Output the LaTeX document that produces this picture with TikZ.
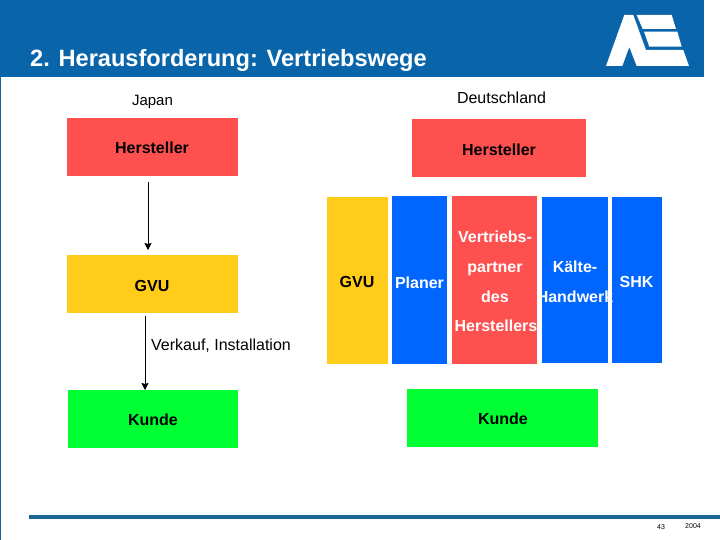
\documentclass[tikz,border=0pt]{standalone}
\usepackage{fontspec}
\setmainfont{Liberation Sans}
\definecolor{headblue}{HTML}{0A64AA}
\definecolor{rulecol}{HTML}{1B6496}
\definecolor{redbox}{HTML}{FF5050}
\definecolor{yelbox}{HTML}{FFCC1A}
\definecolor{blubox}{HTML}{0066FF}
\definecolor{grnbox}{HTML}{00FF33}
\usetikzlibrary{arrows.meta}
\tikzset{
  px/.style={x=1pt,y=-1pt},
  lab/.style={font=\fontsize{16}{18}\selectfont,inner sep=0pt,anchor=center},
  blab/.style={lab,font=\fontsize{16}{18}\selectfont\bfseries},
  arrowline/.style={draw=black,line width=0.7pt,-{Stealth[length=7pt,width=7pt,inset=1pt]}}
}
\newcommand{\boxat}[6]{% name, x1,y1,x2,y2, colour
  \fill[#6] (#2,#3) rectangle (#4,#5);
  \coordinate (#1) at ({(#2+#4)/2},{(#3+#5)/2});
}
\begin{document}
\begin{tikzpicture}[px]
\useasboundingbox (0,0) rectangle (720,540);
\fill[white] (0,0) rectangle (720,540);
% header
\fill[headblue] (0,0) rectangle (704,77);
\fill[rulecol] (0,77) rectangle (1,540);
\fill[rulecol] (29,515) rectangle (720,519);
\node[inner sep=0pt,anchor=base west,text=white,font=\fontsize{23.6}{26}\selectfont\bfseries] (title) at (30,67) {2. Herausforderung: Vertriebswege};
% logo
\fill[white] (606,66) -- (624.3,15) -- (633.3,15) -- (646,50) -- (683.3,50) -- (689,66) -- (636.7,66) -- (629.3,47) -- (622.3,66) -- cycle;
\fill[white] (636.7,15) -- (671.7,15) -- (676,29) -- (642.7,29) -- cycle;
\fill[white] (644,31.7) -- (677.3,31.7) -- (681.7,46.7) -- (649.3,46.7) -- cycle;
% left column boxes
\boxat{hj}{67}{118}{238}{176}{redbox}
\boxat{gj}{67}{255}{238}{313}{yelbox}
\boxat{kj}{68}{390}{238}{448}{grnbox}
% right boxes
\boxat{hd}{412}{119}{586}{177}{redbox}
\boxat{kd}{407}{389}{598}{447}{grnbox}
\boxat{cg}{327}{197}{388}{364}{yelbox}
\boxat{cp}{392}{196}{447}{364}{blubox}
\boxat{cv}{452}{196}{537}{364}{redbox}
\boxat{ck}{542}{197}{608}{363}{blubox}
\boxat{cs}{612}{197}{662}{363}{blubox}
% labels
\node[lab,font=\fontsize{15}{18}\selectfont] (tj) at (152.5,102) {Japan};
\node[lab] (td) at (501.5,98) {Deutschland};
\node[blab] (thj) at (152,148) {Hersteller};
\node[blab] (tgj) at (152,286) {GVU};
\node[blab] (tkj) at (153,420) {Kunde};
\node[blab] (thd) at (499,150) {Hersteller};
\node[blab] (tkd) at (503,419) {Kunde};
\node[blab] (tcg) at (357,282) {GVU};
\node[blab,text=white] (tcp) at (419.5,283) {Planer};
\node[blab,text=white] (tv1) at (495,237) {Vertriebs-};
\node[blab,text=white] (tv2) at (495,269) {partner};
\node[blab,text=white] (tv3) at (495,297) {des};
\node[blab,text=white] (tv4) at (496,326) {Herstellers};
\node[blab,text=white] (tk1) at (575,267) {Kälte-};
\node[blab,text=white] (tk2) at (575,297) {Handwerk};
\node[blab,text=white] (ts) at (636.5,282) {SHK};
\node[lab,anchor=west] (tvk) at (151,346) {Verkauf, Installation};
\node[inner sep=0pt,font=\fontsize{7}{8}\selectfont] (tn) at (661,527) {43};
\node[inner sep=0pt,font=\fontsize{7}{8}\selectfont] (ty) at (693,526) {2004};
% anchors for connectors
\coordinate (a1s) at (148,182);
\coordinate (a1e) at (148,250);
\coordinate (a2s) at (145,316);
\coordinate (a2e) at (145,390);
\draw[arrowline] (a1s) -- (a1e);
\draw[arrowline] (a2s) -- (a2e);
\end{tikzpicture}
\end{document}
